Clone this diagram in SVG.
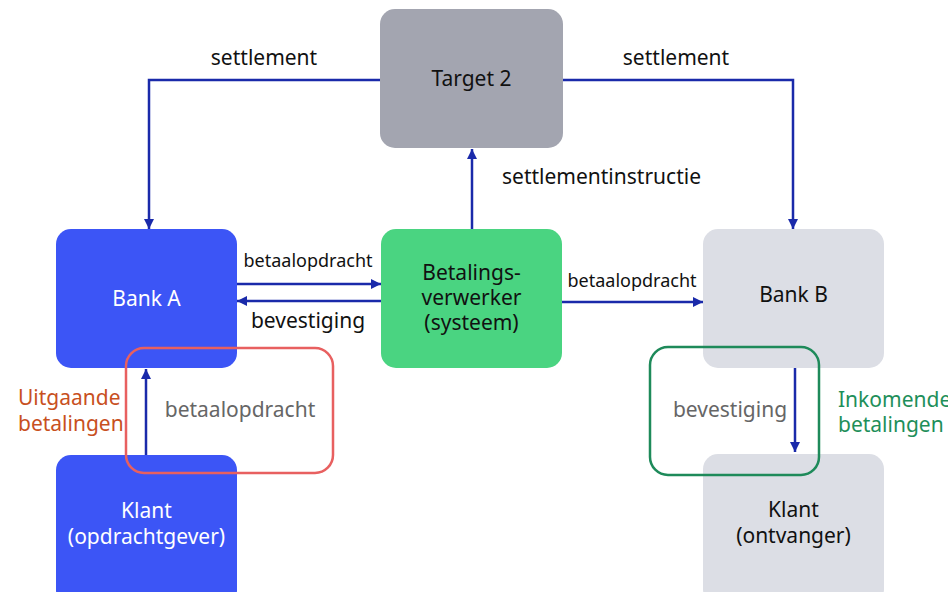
<svg xmlns="http://www.w3.org/2000/svg" width="948" height="592" viewBox="0 0 948 592">
<defs>
<marker id="ah" viewBox="0 0 10 10" refX="10" refY="5" markerWidth="10" markerHeight="10" markerUnits="userSpaceOnUse" orient="auto">
<path d="M0,0 L10,5 L0,10 z" fill="#1a2aaa"/>
</marker>
</defs>
<style>
text{font-family:"Noto Sans","Open Sans",sans-serif;font-size:21px;text-anchor:middle}
.node{stroke:none}
.c{fill:none;stroke:#1a2aaa;stroke-width:2.5;marker-end:url(#ah)}
.lbl{fill:#111}
.sm{font-size:18px}
.w{fill:#fff}
.g{fill:#666}
</style>
<rect width="948" height="592" fill="#fff"/>
<g id="target2"><rect class="node" x="380" y="9" width="183" height="139" rx="15" fill="#a3a5b0"/><text x="471.5" y="86" class="lbl">Target 2</text></g>
<g id="bankA"><rect class="node" x="56" y="229" width="181" height="139" rx="15" fill="#3c55f6"/><text x="146.5" y="306" class="w">Bank A</text></g>
<g id="verwerker"><rect class="node" x="381" y="229" width="181" height="139" rx="15" fill="#4ad481"/><text x="471.5" y="280" class="lbl">Betalings-</text><text x="471.5" y="305" class="lbl">verwerker</text><text x="471.5" y="330" class="lbl">(systeem)</text></g>
<g id="bankB"><rect class="node" x="703" y="229" width="181" height="139" rx="15" fill="#dcdee5"/><text x="793.5" y="302" class="lbl">Bank B</text></g>
<g id="klantA"><rect class="node" x="56" y="455" width="181" height="150" rx="15" fill="#3c55f6"/><text x="146.5" y="518" class="w">Klant</text><text x="146.5" y="544" class="w">(opdrachtgever)</text></g>
<g id="klantB"><rect class="node" x="703" y="454" width="181" height="150" rx="15" fill="#dcdee5"/><text x="793.5" y="517" class="lbl">Klant</text><text x="793.5" y="543" class="lbl">(ontvanger)</text></g>
<g id="connectors">
<path class="c" d="M380,80 H149 V229"/>
<path class="c" d="M563,80 H793 V229"/>
<path class="c" d="M472,229 V149"/>
<path class="c" d="M237,284 H381"/>
<path class="c" d="M381,301 H237"/>
<path class="c" d="M562,302 H703"/>
<path class="c" d="M146,455 V369"/>
<path class="c" d="M795,368 V452"/>
<text x="264" y="65" class="lbl">settlement</text>
<text x="676" y="65" class="lbl">settlement</text>
<text x="502" y="184" class="lbl" style="text-anchor:start">settlementinstructie</text>
<text x="308" y="267" class="lbl sm">betaalopdracht</text>
<text x="308" y="328" class="lbl">bevestiging</text>
<text x="632" y="287" class="lbl sm">betaalopdracht</text>
</g>
<g id="groupOut"><rect x="126" y="348" width="207" height="125" rx="18" fill="none" stroke="#e86060" stroke-width="2.5"/><text x="240" y="417" class="g">betaalopdracht</text></g>
<g id="groupIn"><rect x="650" y="347" width="169" height="128" rx="18" fill="none" stroke="#1e8a5a" stroke-width="2.5"/><text x="730" y="417" class="g">bevestiging</text></g>
<text x="18" y="405" style="text-anchor:start;fill:#c8501e">Uitgaande</text>
<text x="18" y="431" style="text-anchor:start;fill:#c8501e">betalingen</text>
<text x="838" y="407" style="text-anchor:start;fill:#1e8f5a">Inkomende</text>
<text x="838" y="432" style="text-anchor:start;fill:#1e8f5a">betalingen</text>
</svg>
